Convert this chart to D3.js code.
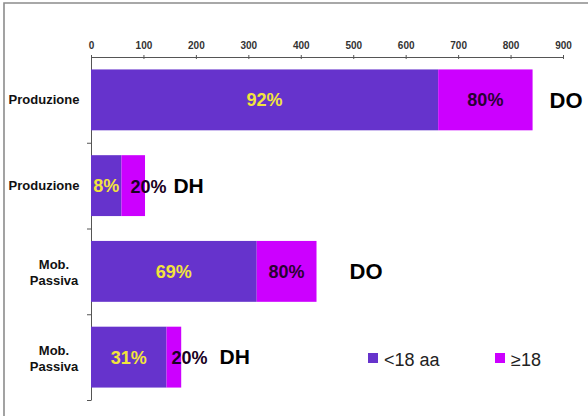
<!DOCTYPE html>
<html>
<head>
<meta charset="utf-8">
<script src="https://cdn.jsdelivr.net/npm/d3@7/dist/d3.min.js"></script>
<style>
  html, body { margin: 0; padding: 0; background: #fff; }
  svg { display: block; }
  text { font-family: "Liberation Sans", Arial, Helvetica, sans-serif; }
</style>
</head>
<body>
<svg id="chart" width="588" height="416"></svg>
<script>
// Rows: activity type, with admission regime (DO = ordinary, DH = day hospital)
const categories = ["Produzione", "Produzione", "Mob. Passiva", "Mob. Passiva"];
const regimes = ["DO", "DH", "DO", "DH"];
// Cases by age class
const under18 = [662, 58, 316, 144];
const over18 = [180, 45, 114, 28];
const xTicks = [0, 100, 200, 300, 400, 500, 600, 700, 800, 900];
const seriesNames = ["<18 aa", "\u226518"];

const colors = { under: "#6633CC", over: "#CC00FF" };

const svg = d3.select("#chart");

// frame
svg.append("path")
  .attr("d", "M4,416V3H588")
  .attr("fill", "none")
  .attr("stroke", "#8c8c8c")
  .attr("stroke-width", 1.6);

const rows = categories.map((c, i) => ({ i, cat: c, regime: regimes[i], u: under18[i], o: over18[i] }));

// share of each age class within the activity type, split by regime
rows.forEach(r => {
  const same = rows.filter(s => s.cat === r.cat);
  r.pu = Math.round(100 * r.u / d3.sum(same, s => s.u)) + "%";
  r.po = Math.round(100 * r.o / d3.sum(same, s => s.o)) + "%";
});

const x = d3.scaleLinear().domain([0, 900]).range([91, 563]);
const y = d3.scaleBand().domain(rows.map(r => r.i)).range([57, 400])
  .paddingInner(0.29).paddingOuter(0.145);

// x axis on top
const xAxis = svg.append("g")
  .attr("transform", "translate(0,57)")
  .call(d3.axisTop(x).tickValues(xTicks).tickSize(3).tickSizeOuter(0).tickPadding(5));
xAxis.select(".domain").attr("stroke", "#555");
xAxis.selectAll(".tick line").attr("stroke", "#555").attr("y2", 2).attr("y1", -2);
xAxis.selectAll(".tick text")
  .attr("font-size", 10).attr("font-weight", "bold").attr("fill", "#333")
  .attr("font-family", "Liberation Sans, Arial, sans-serif");

// y axis with ticks between bands
const yb = d3.scaleLinear().domain([0, rows.length]).range([57, 400]);
const yAxis = svg.append("g")
  .attr("transform", "translate(91,0)")
  .call(d3.axisLeft(yb).tickValues([1, 2, 3, 4]).tickSize(4).tickSizeOuter(0).tickFormat(""));
yAxis.selectAll(".domain, .tick line").attr("stroke", "#555");

// bars
const g = svg.append("g");
g.selectAll("rect.under").data(rows).join("rect")
  .attr("class", "under")
  .attr("x", x(0)).attr("y", d => y(d.i))
  .attr("width", d => x(d.u) - x(0)).attr("height", y.bandwidth())
  .attr("fill", colors.under);
g.selectAll("rect.over").data(rows).join("rect")
  .attr("class", "over")
  .attr("x", d => x(d.u)).attr("y", d => y(d.i))
  .attr("width", d => x(d.u + d.o) - x(d.u)).attr("height", y.bandwidth())
  .attr("fill", colors.over);

const cy = d => y(d.i) + y.bandwidth() / 2;

// category labels
const catLbl = svg.selectAll("text.cat").data(rows).join("text")
  .attr("class", "cat")
  .attr("text-anchor", "middle")
  .attr("font-size", 13).attr("font-weight", "bold").attr("fill", "#111");
catLbl.each(function (d) {
  const parts = d.cat.split(" ");
  const t = d3.select(this);
  const xc = d.cat === "Produzione" ? 44 : 54;
  if (parts.length === 1) {
    t.append("tspan").attr("x", xc).attr("y", cy(d) + 4.5).text(parts[0]);
  } else {
    t.append("tspan").attr("x", xc).attr("y", cy(d) - 2.5).text(parts[0]);
    t.append("tspan").attr("x", xc).attr("y", cy(d) + 14).text(parts[1]);
  }
});

// percentage inside the <18 segment
svg.selectAll("text.pu").data(rows).join("text")
  .attr("class", "pu")
  .attr("x", d => (x(0) + x(d.u)) / 2).attr("y", d => cy(d) + 6.5)
  .attr("text-anchor", "middle")
  .attr("font-size", 18).attr("font-weight", "bold").attr("fill", "#F2E43C")
  .text(d => d.pu);

// percentage of the >=18 segment and regime tag
rows.forEach(d => {
  const wide = x(d.u + d.o) - x(d.u) > 50;
  if (wide) {
    svg.append("text")
      .attr("x", (x(d.u) + x(d.u + d.o)) / 2).attr("y", cy(d) + 6.5)
      .attr("text-anchor", "middle")
      .attr("font-size", 18).attr("font-weight", "bold").attr("fill", "#2a0033")
      .text(d.po);
    svg.append("text")
      .attr("x", x(d.u + d.o) + (d.i === 0 ? 17 : 33)).attr("y", cy(d) + 8)
      .attr("font-size", 22).attr("font-weight", "bold").attr("fill", "#000")
      .text(d.regime);
  } else {
    const t = svg.append("text")
      .attr("x", x(d.u) + (d.i === 1 ? 9 : 5)).attr("y", cy(d) + 7)
      .attr("font-weight", "bold");
    t.append("tspan").attr("font-size", 18).attr("fill", "#1a0022").text(d.po);
    t.append("tspan").attr("font-size", 21).attr("fill", "#000")
      .attr("dx", d.i === 1 ? 7 : 12).text(d.regime);
  }
});

// legend
const leg = svg.append("g").attr("transform", "translate(368,353)");
const legItems = [
  { name: seriesNames[0], color: colors.under, dx: 0 },
  { name: seriesNames[1], color: colors.over, dx: 127 }
];
const li = leg.selectAll("g").data(legItems).join("g")
  .attr("transform", d => `translate(${d.dx},0)`);
li.append("rect").attr("width", 10).attr("height", 10).attr("fill", d => d.color);
li.append("text").attr("x", 16).attr("y", 12.5)
  .attr("font-size", 18).attr("fill", "#222").text(d => d.name);
</script>
</body>
</html>
